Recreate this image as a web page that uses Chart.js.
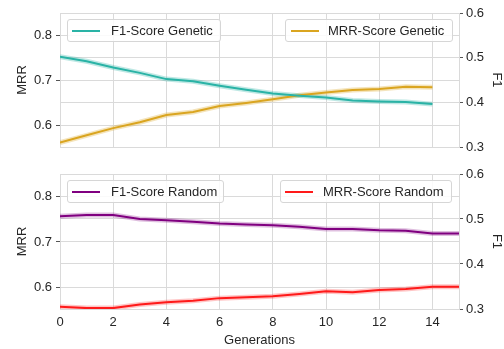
<!DOCTYPE html>
<html>
<head>
<meta charset="utf-8">
<script src="https://cdn.jsdelivr.net/npm/chart.js@4"></script>
<style>
  body { margin: 0; background: #fff; }
  #wrap { position: relative; width: 504px; height: 349px; font-family: 'Liberation Sans', Arial, sans-serif; }
  canvas { position: absolute; left: 0; }
  .legend {
    position: absolute; box-sizing: border-box; height: 23px;
    border: 1px solid #d6d6d6; border-radius: 3px; background: rgba(255,255,255,0.85);
    font-size: 13px; color: #262626;
  }
  .legend .swatch { position: absolute; top: 10px; width: 28px; height: 2px; }
  .legend .label { position: absolute; top: 3px; white-space: nowrap; line-height: 15px; }
</style>
</head>
<body>
<div id="wrap">
  <canvas id="topChart" width="504" height="160" style="top:0"></canvas>
  <canvas id="bottomChart" width="504" height="189" style="top:160px"></canvas>

  <div class="legend" style="left:67px; top:19px; width:154px;">
    <span class="swatch" style="left:4px; background:#2ab3a6;"></span>
    <span class="label" style="left:43px;">F1-Score Genetic</span>
  </div>
  <div class="legend" style="left:285px; top:19px; width:168px;">
    <span class="swatch" style="left:5px; background:#daa520;"></span>
    <span class="label" style="left:42px;">MRR-Score Genetic</span>
  </div>
  <div class="legend" style="left:67px; top:180px; width:157px;">
    <span class="swatch" style="left:4px; background:#800080;"></span>
    <span class="label" style="left:43px;">F1-Score Random</span>
  </div>
  <div class="legend" style="left:280px; top:180px; width:172px;">
    <span class="swatch" style="left:4px; background:#ff1a1a;"></span>
    <span class="label" style="left:42px;">MRR-Score Random</span>
  </div>
</div>

<script>
// values
const genTop = [0, 1, 2, 3, 4, 5, 6, 7, 8, 9, 10, 11, 12, 13, 14];
const genBottom = [0, 1, 2, 3, 4, 5, 6, 7, 8, 9, 10, 11, 12, 13, 14, 15];

const f1Genetic = [0.502, 0.492, 0.478, 0.466, 0.452, 0.447, 0.437, 0.428, 0.420, 0.415, 0.411, 0.404, 0.402, 0.401, 0.396];
const mrrGenetic = [0.562, 0.578, 0.594, 0.607, 0.623, 0.630, 0.643, 0.650, 0.658, 0.667, 0.673, 0.679, 0.681, 0.686, 0.685];

const f1Random = [0.506, 0.509, 0.509, 0.500, 0.497, 0.494, 0.490, 0.488, 0.486, 0.483, 0.478, 0.478, 0.475, 0.474, 0.468, 0.468];
const mrrRandom = [0.557, 0.554, 0.554, 0.562, 0.567, 0.570, 0.576, 0.578, 0.580, 0.585, 0.591, 0.589, 0.594, 0.596, 0.601, 0.601];

const genTicks = [0, 2, 4, 6, 8, 10, 12, 14];
const mrrTicks = [0.6, 0.7, 0.8];
const f1Ticks = [0.3, 0.4, 0.5, 0.6];

const FONT = { family: "'Liberation Sans', Arial, sans-serif", size: 13 };
const TEXT = '#262626';
const GRID = '#dadada';

function points(xs, ys) {
    return ys.map((v, i) => ({ x: xs[i], y: v }));
}

// one line plus a faint wide copy under it for the error band
function lineSets(xs, ys, color, band, axis) {
    return [
        { data: points(xs, ys), borderColor: color, borderWidth: 2, yAxisID: axis, order: 1 },
        { data: points(xs, ys), borderColor: band, borderWidth: 5, yAxisID: axis, order: 2 }
    ];
}

function makeChart(id, datasets, showX, xHeight, topPad) {
    const ctx = document.getElementById(id).getContext('2d');
    return new Chart(ctx, {
        type: 'line',
        data: { datasets: datasets },
        options: {
            responsive: false,
            animation: false,
            layout: { padding: { top: topPad, left: 0, right: 0, bottom: 0 } },
            elements: { point: { radius: 0 }, line: { tension: 0 } },
            plugins: { legend: { display: false }, tooltip: { enabled: false } },
            scales: {
                x: {
                    type: 'linear',
                    min: 0,
                    max: 15,
                    afterBuildTicks: s => { s.ticks = genTicks.map(v => ({ value: v })); },
                    afterFit: s => { s.height = xHeight; },
                    grid: { color: GRID, drawTicks: false },
                    border: { color: GRID },
                    ticks: { display: showX, padding: 6, color: TEXT, font: FONT, maxRotation: 0 },
                    title: {
                        display: showX,
                        text: 'Generations',
                        color: TEXT,
                        font: FONT,
                        padding: { top: 0, bottom: 1 }
                    }
                },
                y: {
                    position: 'left',
                    min: 0.552,
                    max: 0.85,
                    afterBuildTicks: s => { s.ticks = mrrTicks.map(v => ({ value: v })); },
                    afterFit: s => { s.width = 60; },
                    grid: { color: GRID, tickColor: '#555', tickLength: 4 },
                    border: { color: GRID },
                    ticks: { padding: 4, color: TEXT, font: FONT, callback: v => v.toFixed(1) },
                    title: { display: true, text: 'MRR', color: TEXT, font: FONT, padding: { top: 15, bottom: 0 } }
                },
                y1: {
                    position: 'right',
                    min: 0.3,
                    max: 0.6,
                    afterBuildTicks: s => { s.ticks = f1Ticks.map(v => ({ value: v })); },
                    afterFit: s => { s.width = 45; },
                    grid: { color: GRID, tickColor: '#555', tickLength: 4 },
                    border: { color: GRID },
                    ticks: { padding: 3, color: TEXT, font: FONT, callback: v => v.toFixed(1) },
                    title: { display: true, text: 'F1', color: TEXT, font: FONT, padding: { top: 0, bottom: 0 } }
                }
            }
        }
    });
}

makeChart('topChart', [
    ...lineSets(genTop, f1Genetic, '#2ab3a6', 'rgba(42,179,166,0.3)', 'y1'),
    ...lineSets(genTop, mrrGenetic, '#daa520', 'rgba(218,165,32,0.3)', 'y')
], false, 13, 13);

makeChart('bottomChart', [
    ...lineSets(genBottom, f1Random, '#800080', 'rgba(128,0,128,0.25)', 'y1'),
    ...lineSets(genBottom, mrrRandom, '#ff1a1a', 'rgba(255,26,26,0.25)', 'y')
], true, 40, 14);
</script>
</body>
</html>
